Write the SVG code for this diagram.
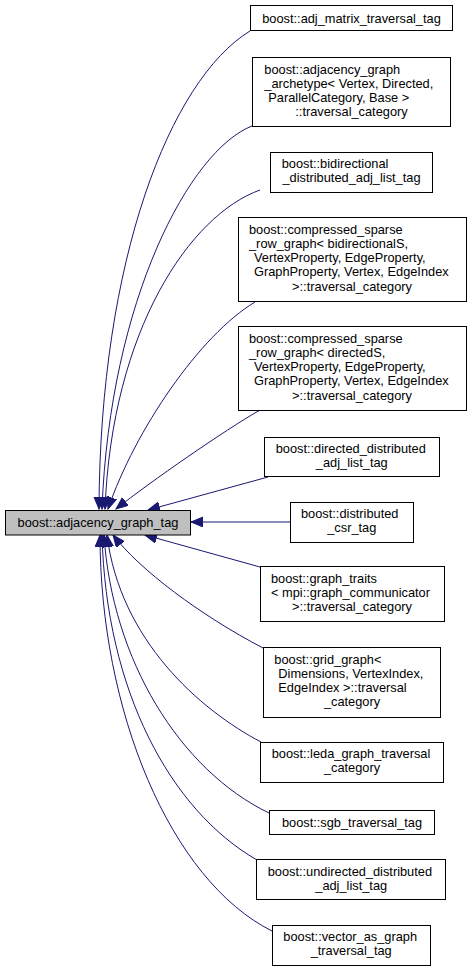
<svg xmlns="http://www.w3.org/2000/svg" width="471" height="971" viewBox="0 0 471 971">
<style>
.n rect{fill:#fff;stroke:#000;stroke-width:1}
.m rect{fill:#bfbfbf;stroke:#000;stroke-width:1}
text{font-family:"Liberation Sans",Arial,Helvetica,sans-serif;font-size:12.8px;fill:#000}
.c{text-anchor:middle}
.e path{fill:none;stroke:#191970;stroke-width:1;marker-end:url(#ah)}
</style>
<defs>
<marker id="ah" markerUnits="userSpaceOnUse" markerWidth="13" markerHeight="11" refX="12" refY="5" orient="auto">
<path d="M0,0 L12,5 L0,10 z" fill="#191970" stroke="#191970" stroke-width="1"/>
</marker>
</defs>
<rect width="471" height="971" fill="#fff"/>
<g class="e" id="edges">
<path d="M250,31 C170,80 100,260 99,509"/>
<path d="M252,126 C190,150 110,300 102,509"/>
<path d="M260,190 C190,215 112,330 105,509"/>
<path d="M255,302 C200,335 135,430 108,509"/>
<path d="M260,410 C225,430 150,482 116,509"/>
<path d="M268,477 L148,510"/>
<path d="M290,522 L191,522"/>
<path d="M260,567 L145,535"/>
<path d="M263,648 C200,615 140,570 113,535"/>
<path d="M261,742 C200,710 120,640 107,535"/>
<path d="M269,813 C180,770 112,660 104,535"/>
<path d="M257,860 C170,810 106,690 102,535"/>
<path d="M272,931 C170,880 100,710 100,535"/>
</g>
<g id="main" class="m"><rect x="5.5" y="510.5" width="185" height="24.5"/><text class="c" x="98" y="527">boost::adjacency_graph_tag</text></g>
<g id="n1" class="n"><rect x="250.5" y="5.5" width="202" height="25"/><text class="c" x="351.5" y="22.5">boost::adj_matrix_traversal_tag</text></g>
<g id="n2" class="n"><rect x="252.5" y="57.5" width="198" height="69"/><text x="264.3" y="74">boost::adjacency_graph</text><text x="264.3" y="88">_archetype&lt; Vertex, Directed,</text><text x="268.3" y="102">ParallelCategory, Base &gt;</text><text class="c" x="351.5" y="116">::traversal_category</text></g>
<g id="n3" class="n"><rect x="270.5" y="152.5" width="162" height="40"/><text x="281.7" y="167.5">boost::bidirectional</text><text class="c" x="351.5" y="181.5">_distributed_adj_list_tag</text></g>
<g id="n4" class="n"><rect x="238.5" y="217.5" width="228" height="84"/><text x="249" y="234">boost::compressed_sparse</text><text x="249" y="248">_row_graph&lt; bidirectionalS,</text><text x="254" y="262">VertexProperty, EdgeProperty,</text><text x="254" y="276">GraphProperty, Vertex, EdgeIndex</text><text class="c" x="352" y="290.5">&gt;::traversal_category</text></g>
<g id="n5" class="n"><rect x="238.5" y="326.5" width="228" height="84"/><text x="249" y="343">boost::compressed_sparse</text><text x="249" y="357">_row_graph&lt; directedS,</text><text x="254" y="371">VertexProperty, EdgeProperty,</text><text x="254" y="385">GraphProperty, Vertex, EdgeIndex</text><text class="c" x="352" y="399.5">&gt;::traversal_category</text></g>
<g id="n6" class="n"><rect x="264.5" y="437.5" width="175" height="39"/><text x="275.7" y="452.5">boost::directed_distributed</text><text class="c" x="351.8" y="466.5">_adj_list_tag</text></g>
<g id="n7" class="n"><rect x="290.5" y="502.5" width="123" height="40"/><text x="301" y="518">boost::distributed</text><text class="c" x="351.8" y="532">_csr_tag</text></g>
<g id="n8" class="n"><rect x="260.5" y="566.5" width="184" height="55"/><text x="271" y="583">boost::graph_traits</text><text x="271" y="597">&lt; mpi::graph_communicator</text><text class="c" x="352" y="611">&gt;::traversal_category</text></g>
<g id="n9" class="n"><rect x="263.5" y="647.5" width="177" height="70"/><text x="274.3" y="664">boost::grid_graph&lt;</text><text x="278.3" y="678">Dimensions, VertexIndex,</text><text x="278.3" y="692">EdgeIndex &gt;::traversal</text><text class="c" x="352" y="706">_category</text></g>
<g id="n10" class="n"><rect x="260.5" y="742.5" width="183" height="40"/><text x="271.7" y="758">boost::leda_graph_traversal</text><text class="c" x="352" y="772">_category</text></g>
<g id="n11" class="n"><rect x="269.5" y="810.5" width="165" height="24"/><text class="c" x="352" y="827">boost::sgb_traversal_tag</text></g>
<g id="n12" class="n"><rect x="256.5" y="859.5" width="189" height="40"/><text x="267.7" y="875.5">boost::undirected_distributed</text><text class="c" x="351.2" y="889.5">_adj_list_tag</text></g>
<g id="n13" class="n"><rect x="272.5" y="925.5" width="158" height="40"/><text x="283.3" y="941">boost::vector_as_graph</text><text class="c" x="351.2" y="955">_traversal_tag</text></g>
</svg>
